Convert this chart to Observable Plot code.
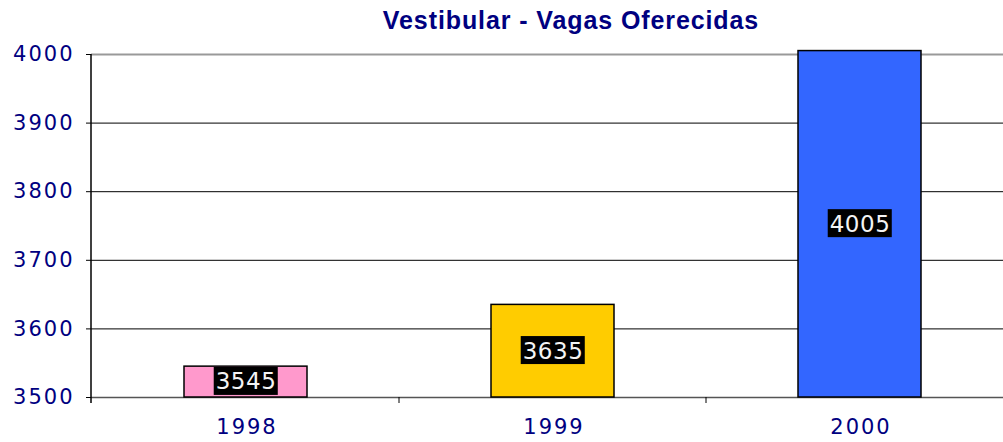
<!DOCTYPE html>
<html><head><meta charset="utf-8">
<script src="https://cdn.jsdelivr.net/npm/d3@7"></script>
<script src="https://cdn.jsdelivr.net/npm/@observablehq/plot@0.6"></script>
<style>
body{margin:0;overflow:hidden;background:#fff;width:1003px;height:442px;position:relative}
#title{position:absolute;left:0;top:8px;width:1142px;text-align:center;font-family:"Liberation Sans",Arial,sans-serif;font-weight:bold;font-size:25px;line-height:25px;letter-spacing:0.9px;color:#000080;z-index:2}
#chart{position:absolute;left:0;top:0}
</style></head><body>
<div id="title">Vestibular - Vagas Oferecidas</div>
<div id="chart"></div>
<script>
const years = ["1998", "1999", "2000"];
const vagas = [3545, 3635, 4005];
const colors = ["#FF99CC", "#FFCC00", "#3366FF"];
const yTicks = [3500, 3600, 3700, 3800, 3900, 4000];
const base = 3500;

const data = years.map((y, i) => ({year: y, value: vagas[i], color: colors[i]}));
const font = '"DejaVu Sans", Verdana, sans-serif';

const plot = Plot.plot({
  width: 1013, height: 442,
  marginLeft: 91, marginRight: 0, marginTop: 54, marginBottom: 45,
  style: {fontFamily: font, fontSize: "21px", background: "transparent", overflow: "visible", maxWidth: "none"},
  x: {domain: years, paddingInner: 0.6, paddingOuter: 0.3, axis: null},
  y: {domain: [3500, 4000], axis: null},
  marks: [
    Plot.ruleY(yTicks.filter(t => t > base && t < 4000), {stroke: "#000", strokeWidth: 1}),
    Plot.ruleY([4000], {stroke: "#999", strokeWidth: 2}),
    Plot.ruleY([base], {stroke: "#555", strokeWidth: 1.5}),
    Plot.barY(data, {x: "year", y1: () => base, y2: "value", fill: "color", stroke: "#000", strokeWidth: 1.5}),
    Plot.axisY({ticks: yTicks, tickSize: 5, tickPadding: 12, label: null, tickFormat: d => String(d), fill: "#000080", stroke: "#000"}),
    Plot.axisX({tickSize: 0, tickPadding: 22, label: null, fill: "#000080", dx: 1}),
    Plot.text(data, {x: "year", y: d => (base + d.value) / 2, text: d => String(d.value), fill: "#f4f4f4", fontSize: 23})
  ]
});
document.getElementById("chart").appendChild(plot);

const svg = d3.select(plot);
svg.selectAll('g[aria-label="y-axis tick label"] text, g[aria-label="x-axis tick label"] text')
  .style("letter-spacing", "2px");
svg.selectAll('g[aria-label="text"] text').style("letter-spacing", "0.5px");

// black label backgrounds
const ns = "http://www.w3.org/2000/svg";
svg.selectAll('g[aria-label="text"] text').each(function() {
  const bb = this.getBBox();
  const r = document.createElementNS(ns, "rect");
  const cx = bb.x + (bb.width - 0.5) / 2, cy = bb.y + bb.height / 2;
  const w = bb.width + 3.5, h = 28;
  r.setAttribute("x", cx - w / 2); r.setAttribute("y", cy - h / 2 - 0.5);
  r.setAttribute("width", w); r.setAttribute("height", h);
  r.setAttribute("fill", "#000");
  const t = this.getAttribute("transform");
  if (t) r.setAttribute("transform", t);
  this.parentNode.insertBefore(r, this);
});

// y axis line and boundary ticks between categories
const xs = plot.scale("x"), ys = plot.scale("y");
const step = xs.step, bw = xs.bandwidth;
const y0 = ys.apply(base), yTop = ys.apply(4000);
const left = xs.range[0];
const g = svg.append("g").attr("stroke", "#000");
g.append("line").attr("x1", left).attr("x2", left).attr("y1", yTop).attr("y2", y0 + 6).attr("stroke-width", 1.5);
years.forEach((yr) => {
  const xb = xs.apply(yr) + bw / 2 + step / 2;
  g.append("line").attr("x1", xb).attr("x2", xb).attr("y1", y0).attr("y2", y0 + 6);
});
</script>
</body></html>
